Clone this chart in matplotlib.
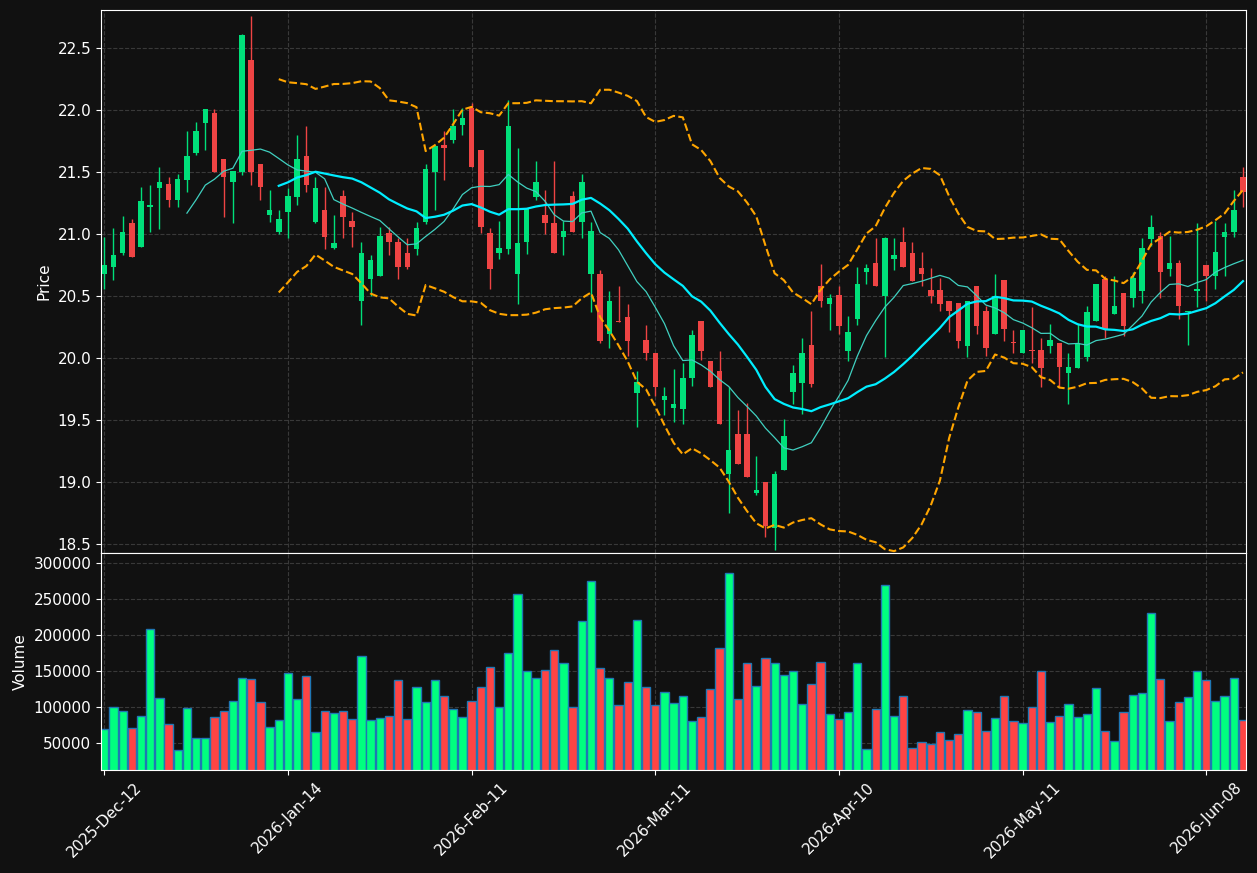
import numpy as np
import pandas as pd
import matplotlib
matplotlib.use("Agg")
import matplotlib.pyplot as plt

opens = [20.68,20.74,20.85,21.09,20.90,21.22,21.37,21.41,21.28,21.44,21.66,21.90,21.98,21.61,21.42,21.50,22.41,21.57,21.16,21.02,
         21.18,21.30,21.63,21.10,21.20,20.89,21.31,21.11,20.46,20.64,20.66,21.01,20.94,20.85,20.88,21.10,21.50,21.72,21.76,21.88,
         22.02,21.68,21.01,20.85,20.88,20.68,20.94,21.30,21.16,21.09,20.98,21.31,21.10,20.68,20.68,20.20,20.30,20.33,19.72,20.15,
         20.04,19.66,19.60,19.59,19.84,20.30,19.98,19.90,19.07,19.39,19.39,18.91,19.00,18.63,19.10,19.73,19.80,20.11,20.58,20.44,
         20.51,20.06,20.32,20.70,20.77,20.50,20.80,20.94,20.85,20.73,20.55,20.55,20.46,20.45,20.10,20.58,20.38,20.20,20.63,20.13,
         20.04,20.07,20.07,20.10,20.12,19.88,19.92,20.01,20.30,20.64,20.36,20.53,20.49,20.54,20.96,20.99,20.72,20.77,20.37,20.54,
         20.75,20.66,20.98,21.02,21.46]
highs = [20.98,21.05,21.15,21.12,21.38,21.40,21.54,21.46,21.49,21.83,21.91,22.01,22.01,21.61,21.51,22.62,22.76,21.57,21.36,21.20,
         21.37,21.80,21.87,21.46,21.38,21.16,21.36,21.18,20.94,20.83,21.06,21.06,20.97,20.97,21.10,21.57,21.71,21.83,22.01,22.02,
         22.06,21.68,21.05,21.11,22.08,21.70,21.21,21.59,21.36,21.59,21.11,21.35,21.49,21.10,20.71,20.54,20.58,20.44,19.90,20.27,
         20.04,19.77,19.91,19.96,20.23,20.30,19.98,20.06,19.77,19.58,19.64,19.21,19.00,19.09,19.51,19.95,20.16,20.38,20.76,20.52,
         20.58,20.34,20.74,20.76,20.97,20.98,20.97,21.06,20.94,20.86,20.73,20.65,20.46,20.45,20.46,20.58,20.42,20.68,20.63,20.23,
         20.23,20.41,20.16,20.28,20.12,20.04,20.28,20.42,20.60,20.66,20.66,20.53,20.70,20.97,21.16,21.02,20.99,20.79,20.38,21.09,
         20.75,21.11,21.09,21.36,21.54]
lows = [20.56,20.63,20.83,20.82,20.90,21.02,21.04,21.22,21.22,21.34,21.64,21.68,21.50,21.14,21.09,21.48,21.40,21.28,21.10,21.00,
        20.97,21.24,21.34,21.09,20.88,20.88,20.97,20.90,20.27,20.50,20.66,20.83,20.64,20.72,20.83,21.08,21.20,21.44,21.74,21.80,
        21.54,21.01,20.56,20.80,20.84,20.44,20.84,21.28,21.00,20.85,20.83,21.02,20.97,20.37,20.12,20.08,20.29,20.02,19.45,19.99,
        19.70,19.54,19.49,19.47,19.78,19.99,19.77,19.47,18.75,19.15,19.04,18.90,18.56,18.45,19.10,19.63,19.55,19.77,20.41,20.23,
        20.20,19.98,20.27,20.60,20.58,20.01,20.71,20.74,20.62,20.58,20.45,20.38,20.21,20.08,20.01,20.20,20.02,20.20,20.14,20.04,
        20.04,19.96,19.77,20.04,19.77,19.63,19.92,19.98,20.30,20.16,20.36,20.18,20.41,20.45,20.91,20.49,20.66,20.32,20.11,20.41,
        20.46,20.56,20.66,20.98,21.22]
closes = [20.75,20.83,21.02,20.82,21.27,21.24,21.42,21.28,21.45,21.63,21.83,22.01,21.50,21.46,21.51,22.61,21.50,21.38,21.20,21.12,
          21.31,21.61,21.40,21.37,20.98,20.93,21.14,21.06,20.85,20.79,20.99,20.94,20.74,20.74,21.05,21.53,21.71,21.70,21.87,21.94,
          21.54,21.06,20.72,20.89,21.87,20.93,21.21,21.42,21.09,20.85,21.03,21.02,21.42,21.03,20.14,20.46,20.29,20.14,19.81,20.04,
          19.77,19.70,19.63,19.84,20.19,20.06,19.77,19.47,19.26,19.15,19.04,18.94,18.65,19.07,19.37,19.88,20.04,19.79,20.46,20.49,
          20.26,20.21,20.60,20.73,20.58,20.97,20.83,20.74,20.62,20.68,20.50,20.44,20.38,20.14,20.46,20.26,20.08,20.50,20.24,20.12,
          20.23,20.06,19.92,20.15,19.93,19.93,20.12,20.37,20.60,20.24,20.42,20.26,20.65,20.89,21.06,20.70,20.77,20.42,20.38,20.56,
          20.66,20.86,21.02,21.20,21.34]
volumes = [69500,101000,94400,70800,88400,208400,113400,76400,40300,99600,57000,57000,86100,94400,108300,140300,138900,107000,72200,82000,
           147200,111100,143100,65300,94400,91700,94400,83300,170800,82000,84700,87500,137500,83300,127800,107000,137500,115300,97200,86100,
           108300,127800,155600,100000,175000,257000,150000,140300,151400,179200,161100,100000,219500,275000,154200,140300,102800,134700,220900,127800,
           102800,120800,105600,115300,80600,86100,125000,182000,286100,111100,161100,129200,168100,161100,144500,150000,104200,132000,162500,90300,
           83300,93100,161100,41700,97200,269500,87500,115300,43100,51400,48600,65300,54200,62500,95800,93100,66700,84700,115300,80600,
           77800,100000,150000,79200,87500,104200,86100,90300,126400,66700,52800,93100,116700,119500,230600,138900,80600,107000,113900,150000,
           137500,108300,115300,140300,82000]
tick_positions = [0, 20, 40, 60, 80, 100, 120]
tick_labels = ["2025-Dec-12", "2026-Jan-14", "2026-Feb-11", "2026-Mar-11", "2026-Apr-10", "2026-May-11", "2026-Jun-08"]

df = pd.DataFrame({"o": opens, "h": highs, "l": lows, "c": closes, "v": volumes})
x = np.arange(len(df))
ma10 = df["c"].rolling(10).mean()
ma20 = df["c"].rolling(20).mean()
sd20 = df["c"].rolling(20).std()
bb_up = ma20 + 2 * sd20
bb_lo = ma20 - 2 * sd20

BG = "#111111"
UP_C, DN_C = "#00e07a", "#ef4444"
UP_V, DN_V = "#00ff7f", "#ff4444"

fig = plt.figure(figsize=(12.57, 8.73), dpi=100, facecolor=BG)
ax = fig.add_axes([0.0804, 0.3666, 0.911, 0.622], facecolor=BG)
axv = fig.add_axes([0.0804, 0.118, 0.911, 0.2486], facecolor=BG, sharex=ax)

up = df["c"] >= df["o"]
ccol = np.where(up, UP_C, DN_C)
ax.vlines(x, df["l"], df["h"], colors=ccol, linewidth=1, zorder=2)
body_bot = np.minimum(df["o"], df["c"])
body_h = np.maximum(np.abs(df["c"] - df["o"]), 0.008)
ax.bar(x, body_h, bottom=body_bot, width=0.6, color=ccol, zorder=3)

ax.plot(x, ma10, color="#40d0c0", linewidth=0.9, zorder=4)
ax.plot(x, ma20, color="#00eeff", linewidth=1.6, zorder=4)
ax.plot(x, bb_up, color="#ffa500", linestyle="--", linewidth=1.5, zorder=4)
ax.plot(x, bb_lo, color="#ffa500", linestyle="--", linewidth=1.5, zorder=4)

vcol = np.where(up, UP_V, DN_V)
axv.bar(x, df["v"], width=0.9, color=vcol, edgecolor="#1f77b4", linewidth=1)

ax.set_ylim(18.43, 22.81)
axv.set_ylim(13000, 314000)
ax.set_xlim(-0.35, 124.35)
ax.set_yticks([18.5, 19.0, 19.5, 20.0, 20.5, 21.0, 21.5, 22.0, 22.5])
axv.set_yticks([50000, 100000, 150000, 200000, 250000, 300000])
axv.set_xticks(tick_positions)
axv.set_xticklabels(tick_labels, rotation=45, ha="center")
plt.setp(ax.get_xticklabels(), visible=False)

ax.set_ylabel("Price", color="white", fontsize=11)
axv.set_ylabel("Volume", color="white", fontsize=11)
for a in (ax, axv):
    a.grid(True, color="#444444", linestyle="--", linewidth=0.8, alpha=0.8)
    a.set_axisbelow(True)
    a.tick_params(colors="white", labelsize=11)
    for s in a.spines.values():
        s.set_color("white")

fig.savefig("out.png", dpi=100, facecolor=BG)
